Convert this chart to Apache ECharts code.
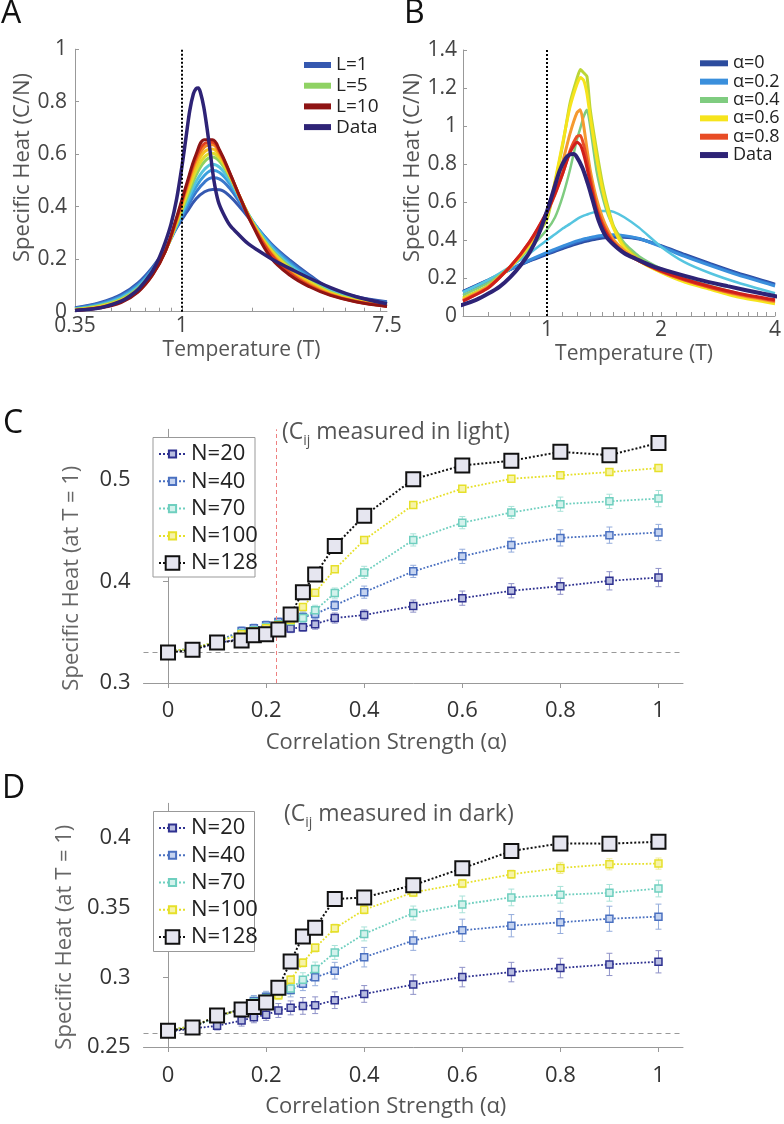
<!DOCTYPE html>
<html>
<head>
<meta charset="utf-8">
<script src="https://cdn.jsdelivr.net/npm/echarts@6/dist/echarts.min.js"></script>
<style>html,body{margin:0;padding:0;background:#fff;}#c{width:784px;height:1124px;}</style>
</head>
<body>
<div id="c"></div>
<script>
// ---------- Panel A : Specific heat vs temperature, models L=1..10 ----------
const tempA = [0.35,0.45,0.55,0.65,0.75,0.85,0.95,1.05,1.15,1.25,1.35,1.45,1.6,1.8,2.0,2.4,2.9,3.5,4.3,5.5,7.5];
const heatL1  = [0.015,0.035,0.065,0.110,0.170,0.240,0.320,0.380,0.430,0.457,0.466,0.465,0.440,0.390,0.340,0.260,0.195,0.140,0.088,0.058,0.038];
const heatL2  = [0.013,0.032,0.060,0.104,0.165,0.238,0.322,0.395,0.456,0.494,0.510,0.505,0.470,0.405,0.345,0.258,0.190,0.135,0.085,0.055,0.035];
const heatL3  = [0.011,0.029,0.056,0.099,0.160,0.236,0.326,0.408,0.476,0.520,0.539,0.530,0.488,0.414,0.346,0.253,0.183,0.129,0.081,0.052,0.032];
const heatL4  = [0.010,0.026,0.052,0.094,0.156,0.234,0.330,0.420,0.496,0.543,0.562,0.550,0.500,0.419,0.345,0.246,0.176,0.123,0.078,0.049,0.030];
const heatL5  = [0.009,0.024,0.048,0.089,0.152,0.233,0.335,0.434,0.520,0.572,0.589,0.572,0.513,0.421,0.342,0.239,0.169,0.118,0.075,0.046,0.028];
const heatL6  = [0.008,0.021,0.045,0.085,0.149,0.232,0.340,0.448,0.538,0.590,0.604,0.584,0.519,0.421,0.340,0.234,0.163,0.113,0.072,0.044,0.026];
const heatL7  = [0.007,0.019,0.042,0.082,0.146,0.231,0.345,0.462,0.558,0.610,0.620,0.594,0.522,0.421,0.337,0.228,0.157,0.108,0.069,0.042,0.024];
const heatL8  = [0.006,0.017,0.039,0.079,0.143,0.230,0.350,0.474,0.576,0.628,0.636,0.604,0.526,0.421,0.335,0.223,0.151,0.103,0.066,0.040,0.022];
const heatL9  = [0.005,0.016,0.037,0.077,0.141,0.230,0.355,0.482,0.588,0.641,0.646,0.610,0.528,0.420,0.332,0.218,0.146,0.099,0.064,0.039,0.021];
const heatL10 = [0.005,0.015,0.035,0.075,0.140,0.230,0.360,0.490,0.600,0.655,0.655,0.615,0.530,0.420,0.330,0.205,0.138,0.095,0.062,0.038,0.020];
const namesL = ['L=1','L=2','L=3','L=4','L=5','L=6','L=7','L=8','L=9','L=10'];

// ---------- Measured data (shared by A and B) ----------
const tempData = [0.35,0.45,0.55,0.6,0.65,0.7,0.75,0.8,0.85,0.9,0.95,1.0,1.04,1.08,1.12,1.15,1.175,1.2,1.24,1.28,1.32,1.37,1.43,1.5,1.6,1.72,1.9,2.1,2.5,3.0,3.7,4.5,5.5,7.5];
const heatData = [0.005,0.015,0.04,0.06,0.085,0.118,0.155,0.205,0.265,0.335,0.43,0.552,0.66,0.765,0.83,0.85,0.852,0.835,0.78,0.70,0.61,0.50,0.42,0.375,0.33,0.30,0.262,0.235,0.193,0.157,0.118,0.085,0.058,0.03];

// ---------- Panel B : models with correlation strength alpha ----------
const tempB = [0.6,0.7,0.8,0.9,1.0,1.05,1.1,1.15,1.2,1.225,1.25,1.275,1.3,1.35,1.4,1.45,1.5,1.6,1.75,2.0,2.3,2.7,3.2,4.0];
const heatA00 = [0.13,0.19,0.245,0.29,0.325,0.34,0.355,0.368,0.38,0.385,0.39,0.394,0.398,0.405,0.41,0.413,0.415,0.415,0.405,0.37,0.325,0.275,0.225,0.168];
const heatA01 = [0.128,0.188,0.245,0.292,0.33,0.346,0.361,0.375,0.388,0.393,0.398,0.402,0.406,0.413,0.418,0.42,0.421,0.419,0.407,0.368,0.32,0.27,0.22,0.163];
const heatA02 = [0.125,0.185,0.245,0.295,0.335,0.352,0.368,0.382,0.395,0.4,0.405,0.409,0.413,0.42,0.424,0.426,0.427,0.423,0.408,0.365,0.315,0.265,0.215,0.158];
const heatA03 = [0.125,0.19,0.26,0.33,0.40,0.43,0.46,0.485,0.51,0.52,0.528,0.534,0.54,0.548,0.552,0.552,0.548,0.52,0.465,0.365,0.285,0.225,0.175,0.12];
const heatA04 = [0.11,0.175,0.26,0.355,0.455,0.52,0.63,0.77,0.93,0.99,1.05,1.085,1.0,0.77,0.63,0.53,0.47,0.385,0.315,0.25,0.2,0.158,0.12,0.078];
const heatA05 = [0.095,0.16,0.26,0.37,0.51,0.7,0.9,1.12,1.25,1.298,1.28,1.26,1.09,0.88,0.70,0.57,0.47,0.37,0.3,0.24,0.19,0.15,0.11,0.07];
const heatA06 = [0.09,0.155,0.255,0.375,0.53,0.71,0.91,1.1,1.22,1.255,1.24,1.17,1.05,0.84,0.67,0.55,0.46,0.36,0.29,0.23,0.18,0.14,0.1,0.065];
const heatA07 = [0.085,0.155,0.26,0.385,0.54,0.67,0.81,0.96,1.07,1.085,1.0,0.88,0.77,0.62,0.52,0.45,0.40,0.345,0.295,0.235,0.19,0.148,0.11,0.075];
const heatA08 = [0.08,0.15,0.26,0.39,0.545,0.64,0.75,0.87,0.945,0.95,0.9,0.82,0.73,0.58,0.49,0.43,0.385,0.335,0.29,0.235,0.19,0.15,0.115,0.08];
const heatA09 = [0.078,0.148,0.26,0.392,0.55,0.645,0.75,0.86,0.915,0.9,0.85,0.78,0.7,0.56,0.475,0.42,0.38,0.333,0.29,0.237,0.195,0.155,0.12,0.085];
const namesAlpha = ['α=0','α=0.1','α=0.2','α=0.3','α=0.4','α=0.5','α=0.6','α=0.7','α=0.8','α=0.9'];

// ---------- Panels C, D : specific heat at T=1 vs alpha ----------
const alphaVals = [0,0.05,0.1,0.15,0.175,0.2,0.225,0.25,0.275,0.3,0.34,0.4,0.5,0.6,0.7,0.8,0.9,1];
const lightN20  = [0.331,0.333,0.339,0.344,0.347,0.349,0.351,0.3536,0.355,0.358,0.364,0.367,0.3758,0.3836,0.3909,0.3954,0.4007,0.4039];
const lightN40  = [0.331,0.334,0.341,0.3513,0.354,0.357,0.360,0.362,0.365,0.368,0.3765,0.3895,0.41,0.4248,0.436,0.443,0.4457,0.4483];
const lightN70  = [0.331,0.334,0.341,0.349,0.352,0.355,0.358,0.361,0.364,0.3716,0.3886,0.409,0.441,0.458,0.468,0.4762,0.479,0.4817];
const lightN100 = [0.331,0.334,0.341,0.348,0.351,0.354,0.357,0.362,0.3748,0.389,0.412,0.441,0.4755,0.4915,0.5013,0.5046,0.5078,0.5118];
const lightN128 = [0.330,0.3327,0.340,0.342,0.347,0.348,0.3526,0.3676,0.3895,0.407,0.435,0.4647,0.5007,0.5144,0.519,0.5278,0.5245,0.5366];
const lightErr20  = [0.003,0.003,0.003,0.004,0.004,0.004,0.004,0.004,0.004,0.005,0.005,0.005,0.006,0.007,0.007,0.008,0.009,0.009];
const lightErr40  = [0.003,0.003,0.003,0.004,0.004,0.004,0.004,0.004,0.005,0.005,0.005,0.006,0.006,0.007,0.007,0.008,0.008,0.008];
const lightErr70  = [0.003,0.003,0.003,0.003,0.003,0.004,0.004,0.004,0.005,0.005,0.005,0.006,0.006,0.006,0.006,0.007,0.007,0.008];
const lightErr100 = [0.002,0.002,0.002,0.002,0.002,0.002,0.002,0.003,0.003,0.003,0.003,0.003,0.003,0.003,0.003,0.003,0.003,0.003];
const lightLine = 0.332;
const lightCut = 0.224;

const darkN20  = [0.261,0.2633,0.2652,0.269,0.2714,0.2731,0.2762,0.2781,0.2795,0.28,0.2836,0.2881,0.2948,0.3002,0.3038,0.3067,0.3093,0.3112];
const darkN40  = [0.262,0.265,0.271,0.278,0.283,0.286,0.289,0.291,0.2955,0.300,0.3048,0.3145,0.3264,0.3338,0.3371,0.3395,0.3421,0.3436];
const darkN70  = [0.262,0.265,0.271,0.278,0.282,0.285,0.288,0.292,0.2983,0.306,0.3179,0.3312,0.3462,0.3524,0.3574,0.3593,0.3607,0.3638];
const darkN100 = [0.262,0.265,0.272,0.277,0.280,0.284,0.2871,0.2983,0.3105,0.3212,0.3352,0.3486,0.361,0.3674,0.374,0.3786,0.3812,0.3817];
const darkN128 = [0.2617,0.264,0.2726,0.2769,0.2788,0.2819,0.2926,0.3114,0.3293,0.3357,0.3562,0.3574,0.3662,0.3783,0.3907,0.3962,0.396,0.3974];
const darkErr20  = [0.003,0.003,0.003,0.004,0.004,0.004,0.005,0.005,0.006,0.006,0.006,0.006,0.007,0.007,0.007,0.007,0.008,0.008];
const darkErr40  = [0.003,0.003,0.003,0.004,0.004,0.004,0.004,0.005,0.005,0.006,0.006,0.007,0.007,0.008,0.008,0.008,0.009,0.009];
const darkErr70  = [0.003,0.003,0.003,0.003,0.004,0.004,0.004,0.004,0.005,0.005,0.005,0.005,0.005,0.006,0.006,0.006,0.006,0.006];
const darkErr100 = [0.002,0.002,0.002,0.002,0.002,0.002,0.003,0.003,0.003,0.003,0.003,0.003,0.003,0.003,0.003,0.004,0.004,0.004];
const darkLine = 0.262;

const namesN = ['N=20','N=40','N=70','N=100','N=128'];

// tick label lists
const ticksA = [0.35, 1, 7.5];
const minorA = [0.4,0.5,0.6,0.7,0.8,0.9,1,2,3,4,5,6,7];
const ticksB = [1, 2, 4];
const minorB = [0.7,0.8,0.9,1,1.1,1.2,1.3,1.4,1.5,1.6,1.7,1.8,1.9,2,2.2,2.4,2.6,2.8,3,3.2,3.4,3.6,3.8,4];
const ticksAlpha = [0,0.2,0.4,0.6,0.8,1];
const ticksYC = [0.3,0.4,0.5];
const ticksYD = [0.25,0.3,0.35,0.4];

// ---------- styling ----------
const FONT = "'Open Sans','Noto Sans',sans-serif";
const colL = ['#3558b0','#3a78cc','#3aa0de','#55c4dc','#8fd263','#dede2e','#f6c21e','#f28a22','#e2401e','#8e1414'];
const colAlpha = ['#2c4c9e','#3266c4','#3a8fdc','#56c5e0','#7fcc80','#bcd636','#f6e41c','#f59a30','#e84c25','#d0201a'];
const colData = '#2e2376';
const colN = ['#2e3190','#4a70c0','#6fcfbf','#e6e02a','#111111'];
const fillN = ['#b8bde0','#c4d3f0','#d3f2ec','#f6f3a8','#e6e6f0'];
const errCol = ['#8f92c8','#94acdc','#a8e2d8','#efeb9a'];

function pairs(xs, ys) { return xs.map((x, i) => [x, ys[i]]); }

function curve(name, xs, ys, color, width, gi, extra) {
  return Object.assign({
    type: 'line', name: name, xAxisIndex: gi, yAxisIndex: gi,
    data: pairs(xs, ys), symbol: 'none', showSymbol: false, smooth: 0.4,
    lineStyle: { color: color, width: width }, itemStyle: { color: color },
    emphasis: { disabled: true }, z: 2, animation: false
  }, extra || {});
}

function markerLine(name, ys, k, gi, extra) {
  const big = k === 4;
  return Object.assign({
    type: 'line', name: name, xAxisIndex: gi, yAxisIndex: gi,
    data: pairs(alphaVals, ys), symbol: 'rect', symbolSize: big ? 14 : 7,
    lineStyle: { color: colN[k], width: big ? 2 : 1.8, type: 'dotted' },
    itemStyle: { color: fillN[k], borderColor: colN[k], borderWidth: big ? 2 : 1.5 },
    emphasis: { disabled: true }, z: 3 + k, animation: false
  }, extra || {});
}

function errorBars(ys, es, k, gi) {
  const c = errCol[k];
  return {
    type: 'custom', name: 'err' + k + '_' + gi, xAxisIndex: gi, yAxisIndex: gi,
    data: alphaVals.map((x, i) => [x, ys[i], es[i]]),
    encode: { x: 0, y: 1 }, z: 1, silent: true, animation: false,
    renderItem: function (params, api) {
      const x = api.value(0), y = api.value(1), e = api.value(2);
      const t = api.coord([x, y + e]), b = api.coord([x, y - e]);
      const w = 3, st = { stroke: c, lineWidth: 1 };
      return { type: 'group', children: [
        { type: 'line', shape: { x1: t[0], y1: t[1], x2: b[0], y2: b[1] }, style: st },
        { type: 'line', shape: { x1: t[0] - w, y1: t[1], x2: t[0] + w, y2: t[1] }, style: st },
        { type: 'line', shape: { x1: b[0] - w, y1: b[1], x2: b[0] + w, y2: b[1] }, style: st }
      ] };
    }
  };
}

const tickLabelAB = { fontSize: 21, color: '#444', fontFamily: FONT };
const tickLabelCD = { fontSize: 22, color: '#333', fontFamily: FONT };
const axisLineG = { show: true, lineStyle: { color: '#999', width: 1 } };
const fmtNum = v => String(Math.round(v * 100) / 100);

const series = [];
// A
namesL.forEach((n, i) => {
  const arr = [heatL1,heatL2,heatL3,heatL4,heatL5,heatL6,heatL7,heatL8,heatL9,heatL10][i];
  series.push(curve(n, tempA, arr, colL[i], 3, 0));
});
series.push(curve('Data', tempData, heatData, colData, 3.5, 0, {
  smooth: 0.3,
  markLine: { silent: true, symbol: 'none', label: { show: false }, animation: false,
    lineStyle: { type: 'dotted', color: '#000', width: 2 }, data: [{ xAxis: 1 }] }
}));
// B
namesAlpha.forEach((n, i) => {
  const arr = [heatA00,heatA01,heatA02,heatA03,heatA04,heatA05,heatA06,heatA07,heatA08,heatA09][i];
  const w = (i === 3 || i === 4) ? 2.5 : 3;
  series.push(curve(n, tempB, arr, colAlpha[i], w, 1, { smooth: 0.2 }));
});
series.push(curve('Data', tempData, heatData, colData, 4, 1, {
  smooth: 0.3,
  markLine: { silent: true, symbol: 'none', label: { show: false }, animation: false,
    lineStyle: { type: 'dotted', color: '#000', width: 2 }, data: [{ xAxis: 1 }] }
}));
// C
[lightN20, lightN40, lightN70, lightN100].forEach((arr, k) => {
  series.push(errorBars(arr, [lightErr20, lightErr40, lightErr70, lightErr100][k], k, 2));
});
[lightN20, lightN40, lightN70, lightN100, lightN128].forEach((arr, k) => {
  const extra = k === 0 ? { markLine: { silent: true, symbol: 'none', label: { show: false }, animation: false,
    data: [
      { yAxis: lightLine, lineStyle: { type: [5, 4], color: '#999', width: 1 } },
      { xAxis: lightCut, lineStyle: { type: [4, 3], color: '#ee8080', width: 1 } }
    ] } } : {};
  series.push(markerLine(namesN[k], arr, k, 2, extra));
});
// D
[darkN20, darkN40, darkN70, darkN100].forEach((arr, k) => {
  series.push(errorBars(arr, [darkErr20, darkErr40, darkErr70, darkErr100][k], k, 3));
});
[darkN20, darkN40, darkN70, darkN100, darkN128].forEach((arr, k) => {
  const extra = k === 0 ? { markLine: { silent: true, symbol: 'none', label: { show: false }, animation: false,
    data: [ { yAxis: darkLine, lineStyle: { type: [5, 4], color: '#999', width: 1 } } ] } } : {};
  series.push(markerLine(namesN[k], arr, k, 3, extra));
});

const letter = (t, left, top) => ({ text: t, left: left, top: top, padding: 0,
  textStyle: { fontSize: 32, fontWeight: 'normal', color: '#111', fontFamily: FONT } });
const subTitle = (pre, post, left, top) => ({
  text: '{m|' + pre + '}{s|ij}{m|' + post + '}', left: left, top: top, padding: 0,
  textStyle: { fontFamily: FONT, fontWeight: 'normal', rich: {
    m: { fontSize: 23, lineHeight: 32, color: '#555', fontWeight: 'normal', fontFamily: FONT },
    s: { fontSize: 14, lineHeight: 14, color: '#555', fontWeight: 'normal', verticalAlign: 'bottom', fontFamily: FONT } } }
});

const legendText = (fs) => ({ fontSize: fs, lineHeight: fs, color: '#222', fontFamily: FONT });

const option = {
  animation: false,
  backgroundColor: '#fff',
  title: [
    letter('A', 1, -2), letter('B', 404, -2), letter('C', 3, 408), letter('D', 2, 773),
    subTitle('(C', ' measured in light)', 282, 416),
    subTitle('(C', ' measured in dark)', 284, 798)
  ],
  legend: [
    { orient: 'vertical', left: 304, top: 55.5, padding: 0, data: ['L=1','L=5','L=10','Data'],
      icon: 'rect', itemWidth: 27, itemHeight: 6, itemGap: 1.7, textStyle: legendText(19), selectedMode: false },
    { orient: 'vertical', left: 700, top: 54.3, padding: 0, data: ['α=0','α=0.2','α=0.4','α=0.6','α=0.8','Data'],
      icon: 'rect', itemWidth: 28, itemHeight: 6, itemGap: 0.35, textStyle: legendText(18), selectedMode: false },
    { orient: 'vertical', left: 158, top: 443, padding: 0, data: ['N=20','N=40','N=70','N=100'],
      itemWidth: 27, itemHeight: 9, itemGap: 5.3, textStyle: legendText(22), selectedMode: false },
    { orient: 'vertical', left: 158, top: 552, padding: 0, data: ['N=128'],
      itemWidth: 27, itemHeight: 17, itemGap: 5.3, textStyle: legendText(22), selectedMode: false },
    { orient: 'vertical', left: 158, top: 817, padding: 0, data: ['N=20','N=40','N=70','N=100'],
      itemWidth: 27, itemHeight: 9, itemGap: 5.25, textStyle: legendText(22), selectedMode: false },
    { orient: 'vertical', left: 158, top: 926, padding: 0, data: ['N=128'],
      itemWidth: 27, itemHeight: 17, itemGap: 5.25, textStyle: legendText(22), selectedMode: false }
  ],
  graphic: [
    { type: 'rect', shape: { x: 153, y: 437.5, width: 102, height: 139.5 }, style: { fill: '#fff', stroke: '#999', lineWidth: 1 }, z: 3, silent: true },
    { type: 'rect', shape: { x: 153.5, y: 811.5, width: 101, height: 140 }, style: { fill: '#fff', stroke: '#999', lineWidth: 1 }, z: 3, silent: true }
  ],
  grid: [
    { left: 75, top: 49.2, width: 312, height: 262.5 },
    { left: 463, top: 50, width: 312, height: 266 },
    { left: 143.5, top: 429.3, width: 539.5, height: 253.7 },
    { left: 143.5, top: 803.3, width: 539.5, height: 243.7 }
  ],
  xAxis: [
    { gridIndex: 0, type: 'log', logBase: 10, min: 0.35, max: 7.5,
      name: 'Temperature (T)', nameLocation: 'middle', nameGap: 28,
      nameTextStyle: { fontSize: 21, color: '#555', fontFamily: FONT, padding: [0, 0, 0, 21] },
      axisLine: axisLineG, splitLine: { show: false }, minorTick: { show: false },
      axisTick: { show: true, inside: true, length: 4, lineStyle: { color: '#999' }, customValues: minorA },
      axisLabel: Object.assign({ margin: 4, customValues: ticksA, formatter: fmtNum }, tickLabelAB) },
    { gridIndex: 1, type: 'log', logBase: 2, min: 0.6, max: 4,
      name: 'Temperature (T)', nameLocation: 'middle', nameGap: 28,
      nameTextStyle: { fontSize: 21, color: '#555', fontFamily: FONT, padding: [0, 0, 0, 30] },
      axisLine: axisLineG, splitLine: { show: false }, minorTick: { show: false },
      axisTick: { show: true, inside: true, length: 4, lineStyle: { color: '#999' }, customValues: minorB },
      axisLabel: Object.assign({ margin: 4, customValues: ticksB, formatter: fmtNum }, tickLabelAB) },
    { gridIndex: 2, type: 'value', min: -0.05, max: 1.05,
      name: 'Correlation Strength (α)', nameLocation: 'middle', nameGap: 49,
      nameTextStyle: { fontSize: 22, color: '#555', fontFamily: FONT, padding: [0, 54, 0, 0] },
      axisLine: axisLineG, splitLine: { show: false },
      axisTick: { show: true, inside: false, length: 5, lineStyle: { color: '#999' }, customValues: ticksAlpha },
      axisLabel: Object.assign({ margin: 17, customValues: ticksAlpha }, tickLabelCD) },
    { gridIndex: 3, type: 'value', min: -0.05, max: 1.05,
      name: 'Correlation Strength (α)', nameLocation: 'middle', nameGap: 49,
      nameTextStyle: { fontSize: 22, color: '#555', fontFamily: FONT, padding: [0, 55, 0, 0] },
      axisLine: axisLineG, splitLine: { show: false },
      axisTick: { show: true, inside: false, length: 5, lineStyle: { color: '#999' }, customValues: ticksAlpha },
      axisLabel: Object.assign({ margin: 18, customValues: ticksAlpha }, tickLabelCD) }
  ],
  yAxis: [
    { gridIndex: 0, type: 'value', min: 0, max: 1, interval: 0.2,
      name: 'Specific Heat (C/N)', nameLocation: 'middle', nameGap: 41,
      nameTextStyle: { fontSize: 22, color: '#555', fontFamily: FONT, padding: [0, 0, 0, 26] },
      axisLine: axisLineG, splitLine: { show: false },
      axisTick: { show: true, inside: true, length: 4, lineStyle: { color: '#999' } },
      axisLabel: Object.assign({ margin: 8 }, tickLabelAB) },
    { gridIndex: 1, type: 'value', min: 0, max: 1.4, interval: 0.2,
      name: 'Specific Heat (C/N)', nameLocation: 'middle', nameGap: 39,
      nameTextStyle: { fontSize: 22, color: '#555', fontFamily: FONT, padding: [0, 0, 0, 31] },
      axisLine: axisLineG, splitLine: { show: false },
      axisTick: { show: true, inside: true, length: 4, lineStyle: { color: '#999' } },
      axisLabel: Object.assign({ margin: 6 }, tickLabelAB) },
    { gridIndex: 2, type: 'value', min: 0.3, max: 0.55,
      name: 'Specific Heat (at T = 1)', nameLocation: 'middle', nameGap: 61,
      nameTextStyle: { fontSize: 22, color: '#666', fontFamily: FONT, padding: [0, 44, 0, 0] },
      axisLine: axisLineG, splitLine: { show: false },
      axisTick: { show: true, inside: false, length: 5, lineStyle: { color: '#999' }, customValues: ticksYC },
      axisLabel: Object.assign({ margin: 13, customValues: ticksYC }, tickLabelCD) },
    { gridIndex: 3, type: 'value', min: 0.25, max: 0.425,
      name: 'Specific Heat (at T = 1)', nameLocation: 'middle', nameGap: 66,
      nameTextStyle: { fontSize: 22, color: '#666', fontFamily: FONT, padding: [0, 24, 0, 0] },
      axisLine: axisLineG, splitLine: { show: false },
      axisTick: { show: true, inside: false, length: 5, lineStyle: { color: '#999' }, customValues: ticksYD },
      axisLabel: Object.assign({ margin: 13, customValues: ticksYD }, tickLabelCD) }
  ],
  series: series
};

const chart = echarts.init(document.getElementById('c'), null, { renderer: 'canvas' });
chart.setOption(option);
</script>
</body>
</html>
